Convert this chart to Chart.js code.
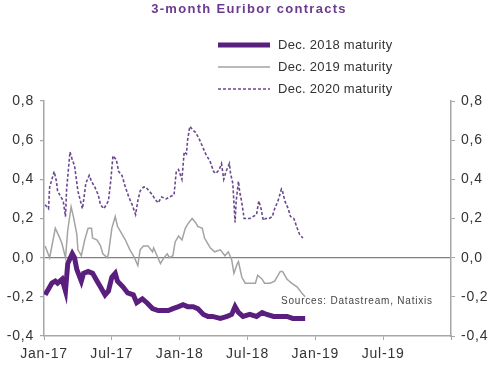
<!DOCTYPE html>
<html>
<head>
<meta charset="utf-8">
<script src="https://cdn.jsdelivr.net/npm/chart.js@4.4.0/dist/chart.umd.min.js"></script>
<style>
  html, body { margin: 0; padding: 0; background: #fff; }
  #wrap { width: 500px; height: 365px; }
</style>
</head>
<body>
<div id="wrap"><canvas id="chart" width="500" height="365"></canvas></div>
<script>
// 3-month Euribor contracts, x = months since Jan 2017

const xTickLabels = ['Jan-17', 'Jul-17', 'Jan-18', 'Jul-18', 'Jan-19', 'Jul-19'];
const seriesNames = ['Dec. 2018 maturity', 'Dec. 2019 maturity', 'Dec. 2020 maturity'];

const dec18Months = [0.1, 0.4, 0.7, 1.0, 1.2, 1.6, 1.9, 2.1, 2.5, 2.7, 2.9, 3.3, 3.5, 3.9, 4.3, 4.7, 5.0, 5.4, 5.7, 6.0,
  6.3, 6.5, 7.0, 7.4, 7.9, 8.2, 8.7, 9.1, 9.6, 10.1, 10.5, 11.0, 11.4, 11.9, 12.3, 12.7, 13.2, 13.6, 14.1, 14.5,
  14.9, 15.6, 16.2, 16.6, 16.9, 17.2, 17.6, 18.2, 18.8, 19.3, 19.7, 20.3, 20.9, 21.5, 22.0, 22.6, 23.1];
const dec18Values = [-0.19, -0.16, -0.13, -0.12, -0.13, -0.11, -0.17, -0.03, 0.02, 0.00, -0.06, -0.12, -0.08, -0.07, -0.08, -0.12, -0.15, -0.19, -0.17, -0.10,
  -0.08, -0.12, -0.15, -0.18, -0.19, -0.23, -0.21, -0.23, -0.26, -0.27, -0.27, -0.27, -0.26, -0.25, -0.24, -0.25, -0.25, -0.26, -0.29, -0.30,
  -0.30, -0.31, -0.30, -0.29, -0.25, -0.28, -0.30, -0.29, -0.30, -0.28, -0.29, -0.30, -0.30, -0.30, -0.31, -0.31, -0.31];

const dec19Months = [0.1, 0.5, 1.0, 1.4, 1.6, 1.9, 2.1, 2.4, 2.6, 2.9, 3.0, 3.3, 3.6, 3.9, 4.2, 4.3, 4.7, 5.0, 5.2, 5.6,
  5.7, 6.0, 6.3, 6.5, 6.9, 7.2, 7.6, 8.0, 8.3, 8.5, 8.8, 9.2, 9.6, 9.7, 10.0, 10.3, 10.5, 10.9, 11.1, 11.4,
  11.6, 11.9, 12.2, 12.5, 12.7, 13.1, 13.4, 13.6, 14.0, 14.2, 14.5, 14.7, 15.1, 15.6, 16.0, 16.3, 16.6, 16.8, 17.1, 17.2,
  17.5, 17.8, 18.2, 18.7, 18.9, 19.3, 19.5, 20.0, 20.4, 20.9, 21.1, 21.5, 21.9, 22.4, 22.8, 23.1];
const dec19Values = [0.06, 0.00, 0.15, 0.10, 0.07, 0.00, 0.14, 0.26, 0.21, 0.12, 0.04, 0.01, 0.09, 0.15, 0.15, 0.10, 0.09, 0.06, 0.02, 0.00,
  0.02, 0.15, 0.21, 0.16, 0.12, 0.09, 0.04, 0.00, -0.04, 0.04, 0.06, 0.06, 0.03, 0.05, 0.01, -0.03, -0.01, 0.02, 0.00, 0.01,
  0.08, 0.11, 0.09, 0.15, 0.17, 0.20, 0.18, 0.16, 0.15, 0.10, 0.07, 0.05, 0.03, 0.04, 0.01, 0.03, -0.01, -0.08, -0.03, -0.02,
  -0.10, -0.13, -0.13, -0.13, -0.09, -0.11, -0.13, -0.13, -0.12, -0.07, -0.07, -0.11, -0.13, -0.15, -0.18, -0.20];

const dec20Months = [0.1, 0.4, 0.5, 0.9, 1.1, 1.2, 1.5, 1.7, 1.9, 2.0, 2.3, 2.5, 2.7, 3.0, 3.4, 3.5, 3.7, 4.0, 4.2, 4.5,
  4.8, 5.0, 5.3, 5.7, 5.9, 6.1, 6.4, 6.6, 6.9, 7.2, 7.5, 7.8, 8.1, 8.3, 8.5, 8.8, 9.0, 9.3, 9.6, 9.8,
  10.1, 10.4, 10.8, 11.1, 11.5, 11.7, 11.9, 12.2, 12.4, 12.6, 12.7, 12.9, 13.2, 13.4, 13.7, 14.0, 14.3, 14.7, 15.0, 15.2,
  15.5, 15.7, 15.9, 16.1, 16.4, 16.5, 16.7, 16.9, 17.0, 17.2, 17.3, 17.5, 17.7, 18.0, 18.2, 18.5, 18.8, 19.0, 19.2, 19.4,
  19.6, 19.9, 20.2, 20.4, 20.7, 21.0, 21.1, 21.3, 21.6, 21.8, 22.1, 22.4, 22.6, 22.9];
const dec20Values = [0.27, 0.25, 0.36, 0.44, 0.39, 0.34, 0.31, 0.29, 0.21, 0.35, 0.54, 0.50, 0.47, 0.34, 0.25, 0.29, 0.38, 0.42, 0.39, 0.36,
  0.32, 0.27, 0.25, 0.29, 0.39, 0.52, 0.50, 0.44, 0.42, 0.36, 0.31, 0.27, 0.22, 0.29, 0.34, 0.36, 0.36, 0.34, 0.32, 0.30,
  0.28, 0.31, 0.30, 0.31, 0.32, 0.44, 0.45, 0.40, 0.54, 0.53, 0.60, 0.67, 0.65, 0.64, 0.61, 0.57, 0.53, 0.49, 0.44, 0.43,
  0.45, 0.48, 0.40, 0.44, 0.48, 0.43, 0.38, 0.18, 0.29, 0.39, 0.34, 0.28, 0.20, 0.20, 0.20, 0.21, 0.22, 0.29, 0.25, 0.19,
  0.20, 0.20, 0.21, 0.25, 0.29, 0.35, 0.34, 0.29, 0.25, 0.21, 0.20, 0.15, 0.12, 0.10];

const FONT = 'Liberation Sans, Arial, sans-serif';
const purple = '#5a1f7e';
const purpleDash = '#6a4890';
const grey = '#a3a3a3';
const axisGrey = '#a6a6a6';

function pts(xs, ys) {
  return xs.map((x, i) => ({ x: x, y: ys[i] }));
}

function fmt(v) {
  return (Math.round(v * 10) / 10).toFixed(1).replace('.', ',');
}

// title, vertical legend and source note
const decorations = {
  id: 'decorations',
  beforeDraw(chart) {
    chart.ctx.letterSpacing = '0.8px';
  },
  afterDraw(chart) {
    const ctx = chart.ctx;
    ctx.save();
    ctx.letterSpacing = '1.3px';
    ctx.font = 'bold 13px ' + FONT;
    ctx.fillStyle = '#6b3b8e';
    ctx.textAlign = 'center';
    ctx.textBaseline = 'middle';
    ctx.fillText('3-month Euribor contracts', 249, 9);

    ctx.letterSpacing = '0.3px';
    ctx.font = '13px ' + FONT;
    ctx.textAlign = 'left';
    ctx.fillStyle = '#333';
    chart.data.datasets.forEach((ds, i) => {
      const y = 45 + i * 22;
      ctx.beginPath();
      ctx.strokeStyle = ds.borderColor;
      ctx.lineWidth = ds.borderWidth;
      ctx.setLineDash(ds.borderDash || []);
      ctx.moveTo(218, y);
      ctx.lineTo(270, y);
      ctx.stroke();
      ctx.fillText(ds.label, 278, y);
    });
    ctx.setLineDash([]);

    ctx.letterSpacing = '0.8px';
    ctx.font = '10px ' + FONT;
    ctx.fillStyle = '#444';
    ctx.fillText('Sources: Datastream, Natixis', 281, 301);
    ctx.restore();
  }
};

new Chart(document.getElementById('chart'), {
  type: 'line',
  data: {
    datasets: [
      { label: seriesNames[0], data: pts(dec18Months, dec18Values), borderColor: purple, borderWidth: 5, yAxisID: 'y' },
      { label: seriesNames[1], data: pts(dec19Months, dec19Values), borderColor: grey, borderWidth: 1.5, yAxisID: 'y' },
      { label: seriesNames[2], data: pts(dec20Months, dec20Values), borderColor: purpleDash, borderWidth: 1.6, borderDash: [3, 2], yAxisID: 'y' }
    ]
  },
  options: {
    responsive: false,
    animation: false,
    layout: { padding: { top: 101, left: 0, right: 0, bottom: 0 } },
    elements: { point: { radius: 0 }, line: { tension: 0 } },
    plugins: { legend: { display: false }, title: { display: false }, tooltip: { enabled: false } },
    scales: {
      x: {
        type: 'linear', min: 0, max: 36,
        afterBuildTicks: s => { s.ticks = [0, 6, 12, 18, 24, 30, 36].map(v => ({ value: v })); },
        afterFit: s => { s.height = 29; },
        grid: { drawOnChartArea: false, color: axisGrey, tickLength: 4 },
        border: { color: axisGrey, width: 1.5 },
        ticks: {
          padding: 6, maxRotation: 0, autoSkip: false, color: '#333',
          font: { family: FONT, size: 14 },
          callback: v => xTickLabels[v / 6] || ''
        }
      },
      y: {
        position: 'left', min: -0.4, max: 0.8,
        afterBuildTicks: s => { s.ticks = [-0.4, -0.2, 0, 0.2, 0.4, 0.6, 0.8].map(v => ({ value: v })); },
        afterFit: s => { s.width = 44; },
        grid: {
          drawOnChartArea: true, tickLength: 4, tickColor: axisGrey,
          color: c => (c.tick && c.tick.value === 0) ? '#7f7f7f' : 'rgba(0,0,0,0)',
          lineWidth: 1.2
        },
        border: { color: axisGrey, width: 1.5 },
        ticks: { padding: 6, color: '#333', font: { family: FONT, size: 14 }, callback: v => fmt(v) }
      },
      y2: {
        position: 'right', min: -0.4, max: 0.8,
        afterBuildTicks: s => { s.ticks = [-0.4, -0.2, 0, 0.2, 0.4, 0.6, 0.8].map(v => ({ value: v })); },
        afterFit: s => { s.width = 49; },
        grid: { drawOnChartArea: false, tickLength: 4, color: axisGrey },
        border: { color: axisGrey, width: 1.5 },
        ticks: { padding: 6, color: '#333', font: { family: FONT, size: 14 }, callback: v => fmt(v) }
      }
    }
  },
  plugins: [decorations]
});
</script>
</body>
</html>
